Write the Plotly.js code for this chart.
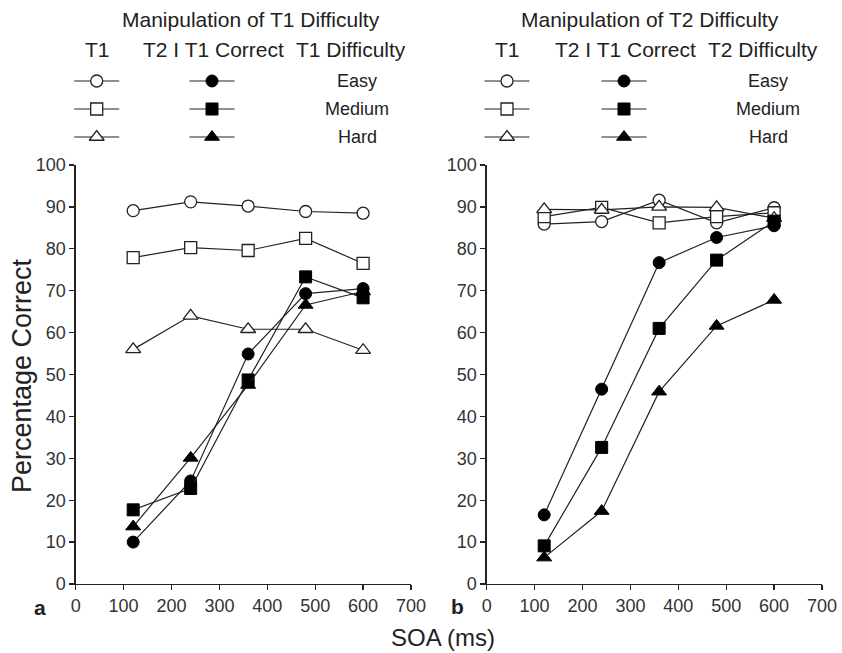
<!DOCTYPE html>
<html><head><meta charset="utf-8">
<script src="https://cdn.plot.ly/plotly-3.0.1.min.js"></script>
<style>html,body{margin:0;padding:0;background:#fff}#chart{width:842px;height:653px}</style>
</head><body><div id="chart"></div>
<script>
// SOA values (ms)
const soa = [120, 240, 360, 480, 600];
// Panel a: manipulation of T1 difficulty
const aT1Easy   = [89.1, 91.2, 90.2, 88.9, 88.5];
const aT1Medium = [77.9, 80.3, 79.6, 82.5, 76.5];
const aT1Hard   = [56.0, 64.0, 60.8, 60.8, 55.8];
const aT2Easy   = [10.0, 24.6, 54.9, 69.3, 70.5];
const aT2Medium = [17.7, 22.8, 48.7, 73.3, 68.3];
const aT2Hard   = [13.7, 30.1, 47.5, 66.6, 69.8];
// Panel b: manipulation of T2 difficulty
const bT1Easy   = [85.9, 86.5, 91.6, 86.2, 89.8];
const bT1Medium = [87.7, 89.9, 86.2, 87.7, 88.6];
const bT1Hard   = [89.4, 89.3, 90.0, 89.9, 87.3];
const bT2Easy   = [16.5, 46.5, 76.7, 82.7, 85.5];
const bT2Medium = [9.1, 32.6, 61.0, 77.3, 86.6];
const bT2Hard   = [6.3, 17.4, 45.9, 61.6, 67.8];
// Labels
const difficultyLabels = ["Easy", "Medium", "Hard"];
const xTicks = [0, 100, 200, 300, 400, 500, 600, 700];
const yTicks = [0, 10, 20, 30, 40, 50, 60, 70, 80, 90, 100];

const FONT = "Liberation Sans, Arial, Helvetica, sans-serif";
const LC = "#222";
const symFill = ["circle", "square", "triangle-up"];
const msize = [12, 12, 13];

function mk(k, open) {
  return open
    ? {symbol: symFill[k], size: msize[k], color: "#fff", line: {color: LC, width: 1.3}}
    : {symbol: symFill[k], size: msize[k], color: "#000", line: {color: "#000", width: 1}};
}
function series(y, xa, ya, k, open) {
  return {
    x: soa, y: y, xaxis: xa, yaxis: ya, type: "scatter", mode: "lines+markers",
    cliponaxis: false, showlegend: false, hoverinfo: "skip",
    line: {color: LC, width: 1.2}, marker: mk(k, open)
  };
}

const traces = [
  series(aT1Easy, "x", "y", 0, true),
  series(aT1Medium, "x", "y", 1, true),
  series(aT1Hard, "x", "y", 2, true),
  series(aT2Easy, "x", "y", 0, false),
  series(aT2Medium, "x", "y", 1, false),
  series(aT2Hard, "x", "y", 2, false),
  series(bT1Easy, "x2", "y2", 0, true),
  series(bT1Medium, "x2", "y2", 1, true),
  series(bT1Hard, "x2", "y2", 2, true),
  series(bT2Easy, "x2", "y2", 0, false),
  series(bT2Medium, "x2", "y2", 1, false),
  series(bT2Hard, "x2", "y2", 2, false)
];

// Legend keys drawn on a full-page overlay axis (pixel units)
const legendRows = [81, 109, 137];
const legendCols = [
  {cx: 96.7, open: true}, {cx: 212, open: false},
  {cx: 507, open: true}, {cx: 624, open: false}
];
legendCols.forEach(col => {
  legendRows.forEach((ry, k) => {
    traces.push({
      x: [col.cx - 22.5, col.cx + 22.5], y: [ry, ry], xaxis: "x3", yaxis: "y3",
      type: "scatter", mode: "lines", showlegend: false, hoverinfo: "skip",
      line: {color: LC, width: 1.2}
    });
    traces.push({
      x: [col.cx], y: [ry], xaxis: "x3", yaxis: "y3", type: "scatter", mode: "markers",
      showlegend: false, hoverinfo: "skip", cliponaxis: false, marker: mk(k, col.open)
    });
  });
});

function xAxis(domain, anchor) {
  return {domain: domain, anchor: anchor, range: [0, 700], tickvals: xTicks, ticktext: xTicks.map(String),
    showgrid: false, zeroline: false, showline: true, linecolor: LC, linewidth: 1.3,
    ticks: "outside", ticklen: 5, tickwidth: 1.3, tickcolor: LC,
    tickfont: {family: FONT, size: 18, color: "#333"}, fixedrange: true};
}
function yAxis(domain, anchor) {
  return {domain: domain, anchor: anchor, range: [0, 100], tickvals: yTicks, ticktext: yTicks.map(String),
    showgrid: false, zeroline: false, showline: true, linecolor: LC, linewidth: 1.3,
    ticks: "outside", ticklen: 5, tickwidth: 1.3, tickcolor: LC,
    tickfont: {family: FONT, size: 18, color: "#333"}, fixedrange: true};
}

const yDom = [1 - 584 / 653, 1 - 165 / 653];
const anns = [];
function txt(x, y, text, size, extra) {
  anns.push(Object.assign({x: x, y: y, xref: "x3", yref: "y3", text: text, showarrow: false,
    xanchor: "center", yanchor: "middle", borderpad: 0,
    font: {family: FONT, size: size, color: "#222"}}, extra || {}));
}
txt(251, 19, "Manipulation of T1 Difficulty", 21);
txt(97, 49, "T1", 21);
txt(213.5, 49, "T2 I T1 Correct", 21);
txt(351, 49, "T1 Difficulty", 21);
txt(650, 19, "Manipulation of T2 Difficulty", 21);
txt(507, 49, "T1", 21);
txt(625, 49, "T2 I T1 Correct", 21);
txt(762.5, 49, "T2 Difficulty", 21);
legendRows.forEach((ry, k) => {
  txt(357, ry, difficultyLabels[k], 18);
  txt(768, ry, difficultyLabels[k], 18);
});
txt(443, 637, "SOA (ms)", 24);
txt(22, 376, "Percentage Correct", 27, {textangle: -90});
txt(40, 607, "<b>a</b>", 21);
txt(457, 606, "<b>b</b>", 21);

const layout = {
  width: 842, height: 653, margin: {l: 0, r: 0, t: 0, b: 0},
  paper_bgcolor: "#fff", plot_bgcolor: "rgba(0,0,0,0)", showlegend: false,
  xaxis: xAxis([75.7 / 842, 411 / 842], "y"),
  yaxis: yAxis(yDom, "x"),
  xaxis2: xAxis([486.7 / 842, 822 / 842], "y2"),
  yaxis2: yAxis(yDom, "x2"),
  xaxis3: {domain: [0, 1], anchor: "y3", range: [0, 842], visible: false, fixedrange: true},
  yaxis3: {domain: [0, 1], anchor: "x3", range: [653, 0], visible: false, fixedrange: true},
  annotations: anns
};

Plotly.newPlot("chart", traces, layout, {staticPlot: true, displayModeBar: false});
</script>
</body></html>
